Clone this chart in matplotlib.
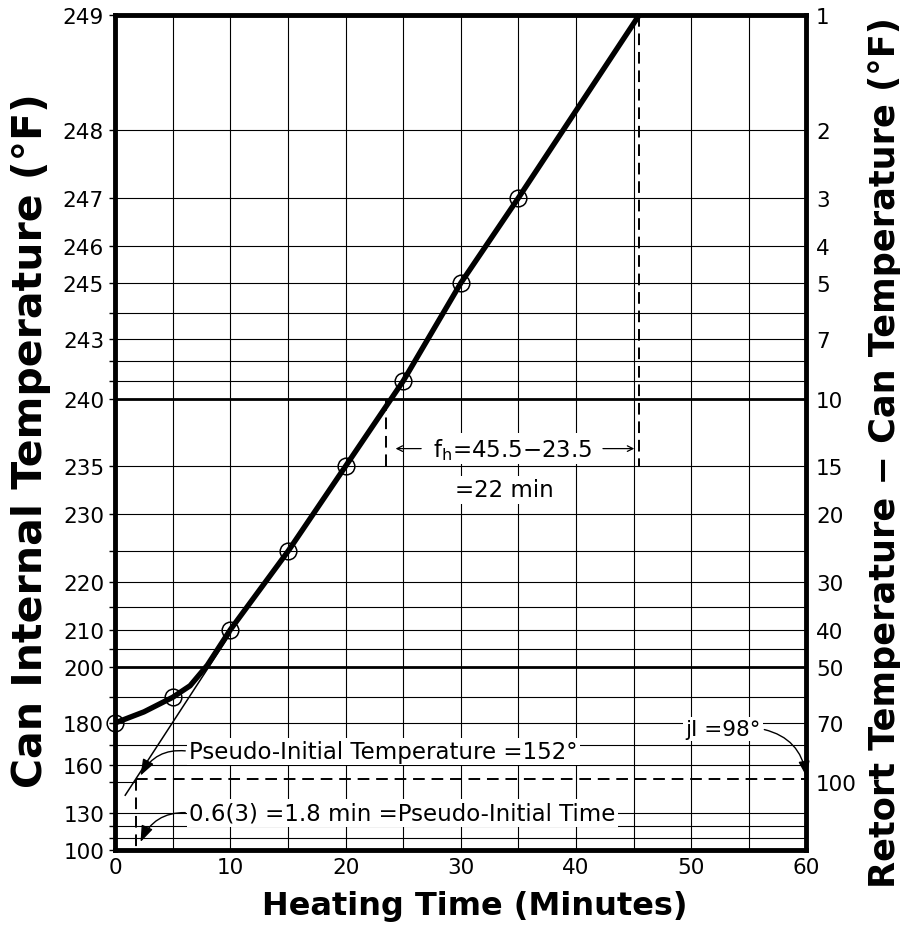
import matplotlib
matplotlib.use("Agg")
import matplotlib.pyplot as plt

plt.rcParams['font.family'] = ['DejaVu Sans']

RETORT_TEMP = 250

# observed can temperatures (open circles)
obs_time = [0, 5, 10, 15, 20, 25, 30, 35]
obs_temp = [180, 190, 210, 225, 235, 241, 245, 247]

# heating curve (minutes, retort - can temperature)
curve_time = [0, 2.5, 5, 6.5, 8, 10, 15, 20, 25, 30, 35, 45.5]
curve_diff = [70, 65.5, 60, 56, 49.5, 40, 25, 15, 9, 5, 3, 1]

# straight-line part extended back toward zero time
ext_time = [0.87, 10]
ext_diff = [108, 41]

# f_h construction and pseudo-initial values
fh_start, fh_end = 23.5, 45.5
fh_label_diff = 13.5
pseudo_time = 1.8
jI_diff = 98

# gridlines / ticks (retort - can temperature, log scale)
grid_diffs = [2, 3, 4, 5, 6, 7, 8, 9, 10, 15, 20, 25, 30, 35, 40, 45, 50,
              60, 70, 80, 90, 100, 120, 130, 140]
heavy_diffs = [10, 50]
left_labels = [249, 248, 247, 246, 245, 243, 240, 235, 230, 220, 210, 200,
               180, 160, 130, 100]
right_labels = [1, 2, 3, 4, 5, 7, 10, 15, 20, 30, 40, 50, 70, 100]
x_ticks = [0, 10, 20, 30, 40, 50, 60]
x_grid = [5, 10, 15, 20, 25, 30, 35, 40, 45, 50, 55]

obs_diff = [RETORT_TEMP - t for t in obs_temp]

fig = plt.figure(figsize=(9, 9.29), dpi=100)
ax = fig.add_axes([0.128, 0.084, 0.768, 0.899])
ax.set_yscale('log')
ax.set_xlim(0, 60)
ax.set_ylim(150, 1)

# grid
for x in x_grid:
    ax.axvline(x, color='black', lw=0.8, zorder=1)
for d in grid_diffs:
    if d == 100:
        ax.plot([0, pseudo_time], [d, d], color='black', lw=0.8, zorder=1)
        continue
    ax.axhline(d, color='black', lw=2.0 if d in heavy_diffs else 0.8, zorder=1)

# dashed construction lines
dash = dict(color='black', lw=1.4, ls=(0, (6, 3.5)), zorder=2)
ax.plot([pseudo_time, 60], [jI_diff, jI_diff], **dash)
ax.plot([pseudo_time, pseudo_time], [jI_diff, 150], **dash)
ax.plot([fh_start, fh_start], [10, 15], **dash)
ax.plot([fh_end, fh_end], [1, 15], **dash)

# heating curve
ax.plot(ext_time, ext_diff, color='black', lw=1.1, zorder=3)
ax.plot(curve_time, curve_diff, color='black', lw=3.9, zorder=4,
        solid_capstyle='butt', solid_joinstyle='round', clip_on=False)
ax.plot(obs_time, obs_diff, 'o', ms=12, mfc='none', mec='black', mew=1.1,
        zorder=5, clip_on=False)

# annotations
box = dict(boxstyle='square,pad=0.1', fc='white', ec='none')
arr = dict(arrowstyle='-|>,head_length=0.6,head_width=0.22', color='black',
           lw=1.0, shrinkA=1, shrinkB=0)
txt = 16.5

ax.text((fh_start + fh_end) / 2, fh_label_diff, r'$\mathregular{f_h}$=45.5−23.5',
        fontsize=txt, ha='center', va='center', bbox=box, zorder=6)
ax.annotate('', xy=(fh_start + 0.6, fh_label_diff), xytext=(fh_start + 3.3, fh_label_diff),
            arrowprops=dict(arrowstyle='->', color='black', lw=0.9), zorder=6)
ax.annotate('', xy=(fh_end - 0.2, fh_label_diff), xytext=(fh_end - 3.4, fh_label_diff),
            arrowprops=dict(arrowstyle='->', color='black', lw=0.9), zorder=6)
ax.text(33.8, 17.3, '=22 min', fontsize=txt,
        ha='center', va='center', bbox=box, zorder=6)

ax.annotate('Pseudo-Initial Temperature =152°', xy=(pseudo_time + 0.4, jI_diff - 2),
            xytext=(6.4, 83), fontsize=txt, ha='left', va='center', bbox=box,
            arrowprops=dict(connectionstyle='arc3,rad=0.35', relpos=(0, 0.5), **arr),
            zorder=6)
ax.annotate('0.6(3) =1.8 min =Pseudo-Initial Time', xy=(pseudo_time + 0.4, 143),
            xytext=(6.4, 120), fontsize=txt, ha='left', va='center', bbox=box,
            arrowprops=dict(connectionstyle='arc3,rad=0.35', relpos=(0, 0.5), **arr),
            zorder=6)
ax.annotate('jI =98°', xy=(60, jI_diff - 1.5), xytext=(49.5, 72.5),
            fontsize=15.5, ha='left', va='center', bbox=box,
            arrowprops=dict(connectionstyle='arc3,rad=-0.35', relpos=(1, 0.5), **arr),
            zorder=6)

# axes / ticks
for s in ax.spines.values():
    s.set_linewidth(3.5)
    s.set_zorder(7)

ax.set_xticks(x_ticks)
ax.tick_params(axis='x', length=0, pad=5, labelsize=15.5)
left_ticks = [1] + grid_diffs + [150]
ax.set_yticks(left_ticks)
ax.set_yticklabels([str(RETORT_TEMP - d) if (RETORT_TEMP - d) in left_labels else ''
                    for d in left_ticks])
ax.yaxis.set_minor_locator(matplotlib.ticker.NullLocator())
ax.tick_params(axis='y', which='major', direction='out', length=4, width=1,
               pad=4, labelsize=15.5)

ax2 = ax.twinx()
ax2.set_yscale('log')
ax2.set_ylim(150, 1)
ax2.set_yticks(right_labels)
ax2.set_yticklabels([str(d) for d in right_labels])
ax2.yaxis.set_minor_locator(matplotlib.ticker.NullLocator())
ax2.tick_params(axis='y', length=0, pad=7, labelsize=15.5)
for s in ax2.spines.values():
    s.set_visible(False)

fig.text(0.528, 0.024, 'Heating Time (Minutes)', fontsize=23, fontweight='bold',
         ha='center', va='center')
fig.text(0.034, 0.526, 'Can Internal Temperature (°F)', fontsize=29.5,
         fontweight='bold', rotation=90, ha='center', va='center')
fig.text(0.983, 0.513, 'Retort Temperature − Can Temperature (°F)', fontsize=25.3,
         fontweight='bold', rotation=90, ha='center', va='center')

fig.savefig('out.png', dpi=100)
